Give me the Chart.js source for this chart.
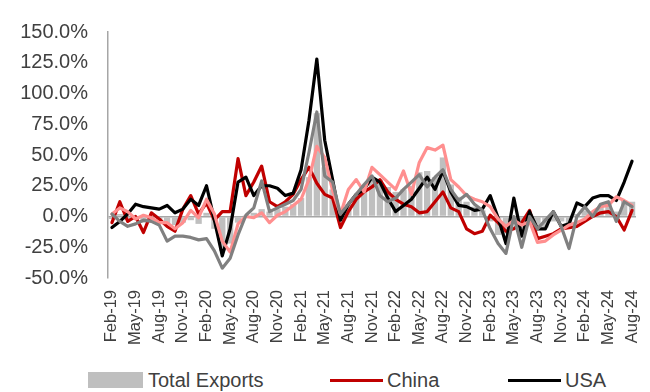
<!DOCTYPE html>
<html>
<head>
<meta charset="utf-8">
<title>Export growth by destination</title>
<script src="https://cdn.jsdelivr.net/npm/chart.js@4.4.1/dist/chart.umd.min.js"></script>
<style>
  html, body { margin: 0; padding: 0; background: #ffffff; }
  #wrap { position: relative; width: 650px; height: 392px; overflow: hidden;
          font-family: "Liberation Sans", Arial, sans-serif; }
  #chart { position: absolute; left: 0; top: 0; }
  .legend-item { position: absolute; top: 369px; height: 22px; display: flex; align-items: center;
                 font-size: 20px; color: #404040; white-space: nowrap; }
  .sw-box { width: 55px; height: 16px; margin-right: 5px; }
  .sw-line { width: 53px; height: 3px; margin-right: 4px; }
</style>
</head>
<body>
<div id="wrap">
  <canvas id="chart" width="650" height="362"></canvas>
  <div id="legend"></div>
</div>
<script>
// Monthly categories
const months = [
  'Feb-19','Mar-19','Apr-19','May-19','Jun-19','Jul-19','Aug-19','Sep-19','Oct-19','Nov-19','Dec-19',
  'Jan-20','Feb-20','Mar-20','Apr-20','May-20','Jun-20','Jul-20','Aug-20','Sep-20','Oct-20','Nov-20','Dec-20',
  'Jan-21','Feb-21','Mar-21','Apr-21','May-21','Jun-21','Jul-21','Aug-21','Sep-21','Oct-21','Nov-21','Dec-21',
  'Jan-22','Feb-22','Mar-22','Apr-22','May-22','Jun-22','Jul-22','Aug-22','Sep-22','Oct-22','Nov-22','Dec-22',
  'Jan-23','Feb-23','Mar-23','Apr-23','May-23','Jun-23','Jul-23','Aug-23','Sep-23','Oct-23','Nov-23','Dec-23',
  'Jan-24','Feb-24','Mar-24','Apr-24','May-24','Jun-24','Jul-24','Aug-24'
];

// Year-on-year growth, %
const totalExports = [
  -2, 2, -3, -2, -5, -3, -4, -6, -7, -5, -3, -6,
  3, -10, -28, -22, -5, 1, 3, 6, 4, 6, 8, 10,
  15, 32, 84, 40, 22, 3, 10, 15, 22, 30, 30, 24,
  20, 22, 25, 36, 37, 32, 48, 26, 16, 12, 8, 5,
  -4, -15, -14, -5, -15, -6, -10, -9, -4, -4, -7, 2,
  5, 3, 8, 10, 4, 13, 12
];
const china = [
  -5, 12, -4, 0, -13, 3, -2, -8, -12, 6, 17, 2,
  11, -3, 4, 4, 47, 17, 28, 41, 12, 8, 12, 18,
  30, 40, 27, 18, 15, -9, 4, 14, 20, 24, 30, 20,
  14, 10, 8, 3, 4, 12, 20, 7, 4, -10, -14, -12,
  1, -5, -12, -10, -5, 5, -18, -16, -14, -10, -9, -8,
  -4, 0, 3, 4, 0, -11, 5
];
const usa = [
  -9, -4, 2, 10, 8, 7, 6, 9, 3, 6, 14, 9,
  25, -3, -32, -10, 28, 32, 17, 25, 25, 23, 17, 19,
  38, 78, 128, 62, 30, -3, 10, 18, 22, 32, 28, 15,
  4, 9, 14, 23, 32, 22, 37, 20, 9, 8, 5, 6,
  17, -1, -22, 15, -16, 4, -10, -10, 4, -8, -6, 11,
  8, 15, 17, 17, 13, 28, 45
];
const marketD = [
  2, 7, 4, -2, 1, -1, -5, -5, -10, -5, 5, -1,
  14, 2, -20, -29, -6, 0, -1, 3, -5, 1, 4, 9,
  14, 30, 57, 48, 21, 2, 22, 30, 20, 40, 34, 28,
  22, 37, 18, 44, 56, 54, 58, 30, 24, 17, 14, 12,
  8, -2, -8, -3, -7, -4, -21, -20, -15, -11, -7, -5,
  -2, 4, 8, 9, 16, 13, 9
];
const marketE = [
  2, -4, -8, -6, -3, -4, -7, -20, -16, -16, -17, -19,
  -18, -28, -42, -34, -15, 1, 7, 29, 4, 7, 10, 13,
  22, 52, 85, 33, 28, 2, 10, 18, 26, 33, 17, 12,
  15, 22, 28, 34, 24, 32, 38, 22, 13, 18, 10, 5,
  -10, -22, -30, 0, -25, 0, -10, -3, 4, -8, -26, 0,
  8, 0, 10, 12, -4, 12, 8
];

const COLORS = {
  total: '#bfbfbf',
  china: '#c00000',
  usa: '#000000',
  d: '#ff8f8f',
  e: '#808080'
};

function lineSet(label, data, color, order) {
  return {
    type: 'line', label, data, order,
    borderColor: color, backgroundColor: color,
    borderWidth: 3.2, pointRadius: 0, tension: 0, fill: false,
    borderJoinStyle: 'round', borderCapStyle: 'round'
  };
}

const chart = new Chart(document.getElementById('chart'), {
  data: {
    labels: months,
    datasets: [
      { type: 'bar', label: 'Total Exports', data: totalExports, order: 10,
        backgroundColor: COLORS.total, barPercentage: 0.8, categoryPercentage: 1.0 },
      lineSet('China', china, COLORS.china, 4),
      lineSet('USA', usa, COLORS.usa, 3),
      lineSet('Market D', marketD, COLORS.d, 2),
      lineSet('Market E', marketE, COLORS.e, 1)
    ]
  },
  options: {
    responsive: false,
    animation: false,
    layout: { padding: { left: 15, top: 27, right: 14, bottom: 2 } },
    plugins: { legend: { display: false }, tooltip: { enabled: false } },
    scales: {
      x: {
        offset: true,
        grid: { display: false, drawTicks: false },
        border: { display: false },
        ticks: {
          autoSkip: false, maxRotation: 90, minRotation: 90, padding: 12,
          color: '#404040',
          font: { family: '"Liberation Sans", Arial, sans-serif', size: 16.5 },
          callback: function (v, i) { return i % 3 === 0 ? months[i] : ''; }
        },
        afterFit: function (s) {
          s.height = 82;
          s.paddingLeft = 0;
          s.paddingRight = 0;
        }
      },
      y: {
        min: -50, max: 150,
        grid: {
          drawTicks: false,
          color: ctx => (ctx.tick && ctx.tick.value === 0) ? '#a6a6a6' : 'rgba(0,0,0,0)',
          lineWidth: 1.5
        },
        border: { display: true, color: '#a6a6a6', width: 1.5 },
        ticks: {
          stepSize: 25, padding: 20, color: '#404040',
          font: { family: '"Liberation Sans", Arial, sans-serif', size: 20 },
          callback: v => v.toFixed(1) + '%'
        },
        afterFit: function (s) { s.width = 93; }
      }
    }
  }
});

// Legend below the plot (first three series)
const legendPos = [88, 330, 508];
const legendEl = document.getElementById('legend');
chart.data.datasets.slice(0, 3).forEach((ds, i) => {
  const item = document.createElement('div');
  item.className = 'legend-item';
  item.style.left = legendPos[i] + 'px';
  const sw = document.createElement('span');
  sw.className = ds.type === 'bar' ? 'sw-box' : 'sw-line';
  sw.style.background = ds.type === 'bar' ? ds.backgroundColor : ds.borderColor;
  const tx = document.createElement('span');
  tx.textContent = ds.label;
  item.appendChild(sw);
  item.appendChild(tx);
  legendEl.appendChild(item);
});
</script>
</body>
</html>
